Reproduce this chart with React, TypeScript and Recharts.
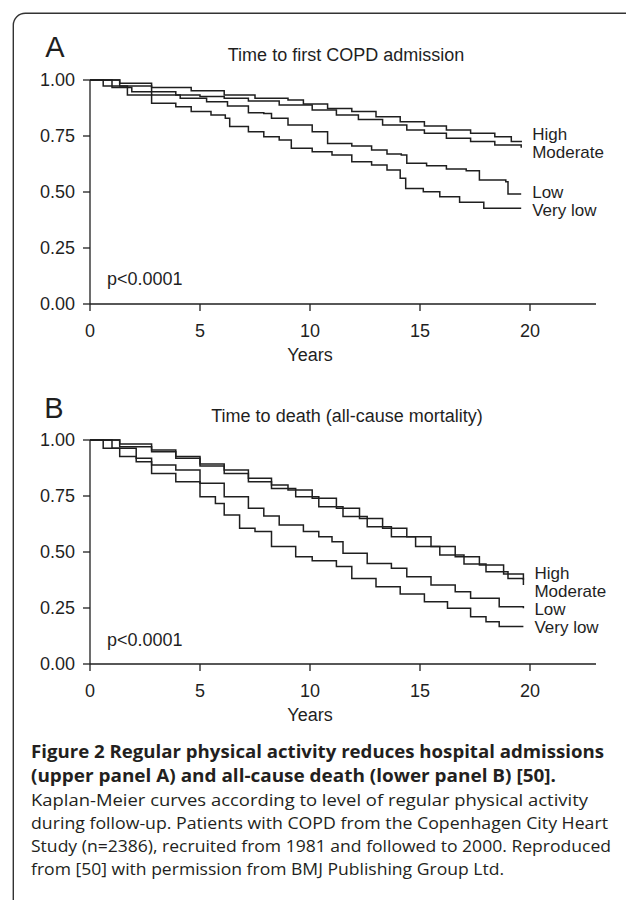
import React from "react";
import { LineChart, Line, XAxis, YAxis } from "recharts";

// Panel A: time to first COPD admission (years, survival fraction)
const highA_t = [0, 1.35, 2.8, 4.6, 6.1, 7.5, 9.0, 9.7, 10.8, 11.9, 13.0, 14.1, 15.2, 16.2, 17.3, 18.4, 19.15, 19.6];
const highA_s = [1, 0.985, 0.967, 0.952, 0.933, 0.918, 0.911, 0.893, 0.873, 0.859, 0.836, 0.814, 0.795, 0.777, 0.762, 0.747, 0.725, 0.722];
const modA_t = [0, 1.35, 2.8, 3.9, 5.0, 6.1, 7.2, 8.6, 10.1, 11.2, 12.2, 13.3, 14.4, 15.2, 16.2, 17.3, 18.4, 19.6];
const modA_s = [1, 0.973, 0.948, 0.933, 0.926, 0.918, 0.906, 0.888, 0.866, 0.844, 0.824, 0.799, 0.777, 0.762, 0.74, 0.725, 0.71, 0.698];
const lowA_t = [0, 1.0, 1.9, 2.8, 4.1, 5.3, 6.25, 7.2, 7.9, 8.25, 9.0, 10.1, 10.8, 11.9, 12.8, 13.5, 14.15, 14.4, 15.3, 16.2, 17.1, 17.7, 18.9, 19.0, 19.6];
const lowA_s = [1, 0.967, 0.948, 0.933, 0.918, 0.903, 0.884, 0.854, 0.851, 0.829, 0.799, 0.769, 0.717, 0.705, 0.688, 0.67, 0.665, 0.628, 0.617, 0.603, 0.595, 0.554, 0.546, 0.491, 0.491];
const vlowA_t = [0, 0.6, 1.7, 2.8, 3.9, 4.6, 5.5, 6.15, 6.35, 7.2, 7.9, 8.6, 9.15, 10.1, 11.0, 11.9, 12.8, 13.5, 14.1, 14.35, 15.15, 15.9, 16.8, 17.9, 19.6];
const vlowA_s = [1, 0.973, 0.933, 0.896, 0.881, 0.859, 0.844, 0.829, 0.792, 0.769, 0.747, 0.732, 0.695, 0.68, 0.665, 0.635, 0.62, 0.598, 0.561, 0.516, 0.501, 0.479, 0.454, 0.428, 0.428];

// Panel B: time to death (all-cause mortality)
const highB_t = [0, 1.35, 2.8, 3.9, 5.0, 6.1, 7.2, 8.25, 9.0, 10.1, 11.2, 12.25, 13.3, 14.4, 15.5, 16.6, 17.7, 18.8, 19.7];
const highB_s = [1, 0.982, 0.955, 0.926, 0.893, 0.866, 0.829, 0.799, 0.777, 0.74, 0.695, 0.65, 0.606, 0.568, 0.524, 0.479, 0.442, 0.402, 0.375];
const modB_t = [0, 1.35, 2.8, 3.9, 5.0, 6.1, 7.2, 8.25, 9.35, 10.4, 11.5, 12.6, 13.7, 14.8, 15.9, 17.0, 18.0, 19.0, 19.7];
const modB_s = [1, 0.97, 0.948, 0.918, 0.884, 0.851, 0.814, 0.784, 0.747, 0.702, 0.658, 0.613, 0.568, 0.524, 0.487, 0.446, 0.412, 0.382, 0.353];
const lowB_t = [0, 1.0, 2.1, 2.8, 3.9, 5.0, 6.1, 7.2, 7.9, 8.6, 9.7, 10.4, 11.0, 11.5, 12.6, 13.7, 14.4, 15.5, 16.6, 17.3, 18.6, 19.7];
const lowB_s = [1, 0.963, 0.918, 0.888, 0.866, 0.807, 0.747, 0.695, 0.661, 0.621, 0.591, 0.568, 0.546, 0.494, 0.449, 0.427, 0.39, 0.353, 0.323, 0.293, 0.256, 0.249];
const vlowB_t = [0, 0.6, 1.35, 2.1, 2.8, 3.9, 5.0, 5.7, 6.1, 6.8, 7.5, 8.25, 9.35, 10.1, 11.2, 11.9, 13.0, 14.1, 15.2, 16.25, 17.3, 18.0, 18.6, 19.7];
const vlowB_s = [1, 0.963, 0.926, 0.903, 0.851, 0.814, 0.747, 0.717, 0.665, 0.606, 0.591, 0.524, 0.479, 0.461, 0.435, 0.382, 0.345, 0.3125, 0.278, 0.249, 0.211, 0.189, 0.167, 0.167];

const groupNames = ["High", "Moderate", "Low", "Very low"];
const xTicks = [0, 5, 10, 15, 20];
const yTicks = [0, 0.25, 0.5, 0.75, 1];

const captionBold = [
  "Figure 2 Regular physical activity reduces hospital admissions",
  "(upper panel A) and all-cause death (lower panel B) [50].",
];
const captionText = [
  "Kaplan-Meier curves according to level of regular physical activity",
  "during follow-up. Patients with COPD from the Copenhagen City Heart",
  "Study (n=2386), recruited from 1981 and followed to 2000. Reproduced",
  "from [50] with permission from BMJ Publishing Group Ltd.",
];

const toRows = (t: number[], s: number[]) => t.map((v, i) => ({ t: v, s: s[i] }));

const FONT = "'Liberation Sans', Arial, sans-serif";
const INK = "#1f1f1f";

const endLabel = (name: string, dy: number, last: number) => (props: any) => {
  const { x, y, index } = props;
  if (index !== last) return null;
  return (
    <text
      x={x + 11}
      y={y + dy}
      fontSize={17}
      fontFamily={FONT}
      fill={INK}
      dominantBaseline="central"
    >
      {name}
    </text>
  );
};

const Panel = ({ series, offsets }: { series: { t: number[]; s: number[] }[]; offsets: number[] }) => (
  <LineChart width={626} height={380} margin={{ top: 80, right: 30, bottom: 16, left: 30 }}>
    <XAxis
      type="number"
      dataKey="t"
      domain={[0, 23]}
      ticks={xTicks}
      allowDataOverflow
      height={60}
      tickSize={7}
      tickMargin={13}
      stroke={INK}
      strokeWidth={1.3}
      tick={{ fill: INK, fontSize: 18, fontFamily: FONT }}
    />
    <YAxis
      type="number"
      domain={[0, 1]}
      ticks={yTicks}
      width={60}
      tickSize={7}
      tickMargin={8}
      stroke={INK}
      strokeWidth={1.3}
      tickFormatter={(v: number) => v.toFixed(2)}
      tick={{ fill: INK, fontSize: 18, fontFamily: FONT }}
    />
    {series.map((sr, i) => (
      <Line
        key={groupNames[i]}
        data={toRows(sr.t, sr.s)}
        dataKey="s"
        type="stepAfter"
        stroke={INK}
        strokeWidth={1.5}
        dot={false}
        isAnimationActive={false}
        label={endLabel(groupNames[i], offsets[i], sr.t.length - 1)}
      />
    ))}
  </LineChart>
);

export default function App() {
  const seriesA = [
    { t: highA_t, s: highA_s },
    { t: modA_t, s: modA_s },
    { t: lowA_t, s: lowA_s },
    { t: vlowA_t, s: vlowA_s },
  ];
  const seriesB = [
    { t: highB_t, s: highB_s },
    { t: modB_t, s: modB_s },
    { t: lowB_t, s: lowB_s },
    { t: vlowB_t, s: vlowB_s },
  ];
  const captionEnds = [604, 556, 588, 608, 611, 504];
  const captionY = [758, 782, 806, 829, 852, 875];

  return (
    <div style={{ position: "absolute", left: 0, top: 0, width: 626, height: 900, overflow: "hidden", background: "#fff" }}>
      <div style={{ position: "absolute", left: 0, top: 0 }}>
        <Panel series={seriesA} offsets={[-7.8, 5.2, -1.3, 2.5]} />
      </div>
      <div style={{ position: "absolute", left: 0, top: 360 }}>
        <Panel series={seriesB} offsets={[-7, 6.7, 1.7, 1.2]} />
      </div>
      <svg width={626} height={900} style={{ position: "absolute", left: 0, top: 0, pointerEvents: "none" }}>
        <rect x={13.3} y={13.3} width={700} height={950} rx={12} fill="none" stroke="#333" strokeWidth={1.4} />
        <g fontFamily={FONT} fill={INK}>
          <text x={55} y={57} fontSize={29} textAnchor="middle">A</text>
          <text x={346} y={55} fontSize={18} textAnchor="middle" dominantBaseline="central">Time to first COPD admission</text>
          <text x={107} y={279} fontSize={18} dominantBaseline="central">p&lt;0.0001</text>
          <text x={310} y={355} fontSize={18} textAnchor="middle" dominantBaseline="central">Years</text>
          <text x={54} y={418} fontSize={29} textAnchor="middle">B</text>
          <text x={347} y={416} fontSize={18} textAnchor="middle" dominantBaseline="central">Time to death (all-cause mortality)</text>
          <text x={107} y={640} fontSize={18} dominantBaseline="central">p&lt;0.0001</text>
          <text x={310} y={715} fontSize={18} textAnchor="middle" dominantBaseline="central">Years</text>
        </g>
        <g fontFamily="'Open Sans', sans-serif" fill="#231f20">
          {captionBold.map((line, i) => (
            <text key={line} x={31} y={captionY[i]} fontSize={17.5} fontWeight={700} textLength={captionEnds[i] - 31} lengthAdjust="spacingAndGlyphs">
              {line}
            </text>
          ))}
          {captionText.map((line, i) => (
            <text key={line} x={31} y={captionY[i + 2]} fontSize={16.5} textLength={captionEnds[i + 2] - 31} lengthAdjust="spacingAndGlyphs">
              {line}
            </text>
          ))}
        </g>
      </svg>
    </div>
  );
}
